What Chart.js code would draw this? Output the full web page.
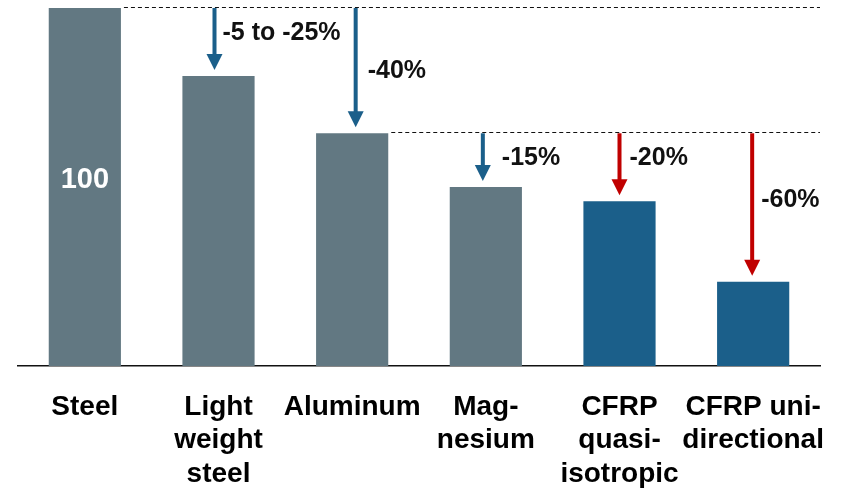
<!DOCTYPE html>
<html>
<head>
<meta charset="utf-8">
<script src="https://cdn.jsdelivr.net/npm/chart.js@4/dist/chart.umd.min.js"></script>
<style>
  html, body { margin: 0; padding: 0; background: #fff; }
  #wrap { width: 852px; height: 489px; position: relative; }
</style>
</head>
<body>
<div id="wrap"><canvas id="chart"></canvas></div>
<script>
const categories = [
  "Steel",
  ["Light", "weight", "steel"],
  "Aluminum",
  ["Mag-", "nesium"],
  ["CFRP", "quasi-", "isotropic"],
  ["CFRP uni-", "directional"],
];
const weights = [100, 81, 65, 50, 46, 23.5];
const barColors = ["#627882", "#627882", "#627882", "#627882", "#1b5f8a", "#1b5f8a"];

// arrows: category index, start value, label, colour
const arrowIndex = [1, 2, 3, 4, 5];
const arrowFrom = [100, 100, 65, 65, 65];
const arrowLabels = ["-5 to -25%", "-40%", "-15%", "-20%", "-60%"];
const arrowColors = ["#1b5f8a", "#1b5f8a", "#1b5f8a", "#c00000", "#c00000"];
const refLevels = [100, 65];
const refFromIndex = [0, 2];

const FONT = "'Liberation Sans', Arial, sans-serif";

const annotations = {
  id: "annotations",
  afterDatasetsDraw(chart) {
    const { ctx, scales: { x, y }, chartArea } = chart;
    const meta = chart.getDatasetMeta(0);
    ctx.save();

    // dashed reference lines
    ctx.strokeStyle = "#111";
    ctx.lineWidth = 1;
    ctx.setLineDash([4, 3]);
    refLevels.forEach((lvl, i) => {
      const bar = meta.data[refFromIndex[i]];
      const yy = Math.round(y.getPixelForValue(lvl)) - 0.5;
      ctx.beginPath();
      ctx.moveTo(bar.x + bar.width / 2 + 3, yy);
      ctx.lineTo(chartArea.right, yy);
      ctx.stroke();
    });
    ctx.setLineDash([]);

    const dx = [-4, 3.5, -3, 0, -1];
    const labelDx = [8, 12, 19, 10, 9];
    const labelDy = [25, 63, 25, 25, 67];
    arrowIndex.forEach((idx, i) => {
      const bar = meta.data[idx];
      const ax = x.getPixelForValue(idx) + dx[i];
      const y0 = y.getPixelForValue(arrowFrom[i]);
      const y1 = bar.y - 6;
      ctx.fillStyle = arrowColors[i];
      ctx.fillRect(ax - 2, y0, 4, y1 - y0 - 14);
      ctx.beginPath();
      ctx.moveTo(ax - 8, y1 - 16);
      ctx.lineTo(ax + 8, y1 - 16);
      ctx.lineTo(ax, y1);
      ctx.closePath();
      ctx.fill();

      ctx.fillStyle = "#111";
      ctx.font = "bold 25px " + FONT;
      ctx.textAlign = "left";
      ctx.textBaseline = "middle";
      ctx.fillText(arrowLabels[i], ax + labelDx[i], y0 + labelDy[i]);
    });

    // value inside first bar
    const first = meta.data[0];
    ctx.fillStyle = "#fff";
    ctx.font = "bold 29px " + FONT;
    ctx.textAlign = "center";
    ctx.fillText(String(weights[0]), first.x, 180);
    ctx.restore();
  },
};

new Chart(document.getElementById("chart"), {
  type: "bar",
  data: {
    labels: categories,
    datasets: [
      {
        data: weights,
        backgroundColor: barColors,
        borderWidth: 0,
        barPercentage: 0.54,
        categoryPercentage: 1,
      },
    ],
  },
  options: {
    responsive: true,
    maintainAspectRatio: false,
    animation: false,
    layout: { padding: { left: 18, right: 32, top: 8, bottom: 0 } },
    plugins: { legend: { display: false }, tooltip: { enabled: false } },
    scales: {
      x: {
        grid: { display: false },
        border: { display: true, color: "#111", width: 1.5 },
        ticks: {
          color: "#000",
          font: { family: FONT, size: 28, weight: "bold", lineHeight: 1.2 },
          padding: 16,
          maxRotation: 0,
          autoSkip: false,
        },
        afterFit(scale) {
          scale.height = 123;
        },
      },
      y: {
        display: false,
        min: 0,
        max: 100,
      },
    },
  },
  plugins: [annotations],
});
</script>
</body>
</html>
